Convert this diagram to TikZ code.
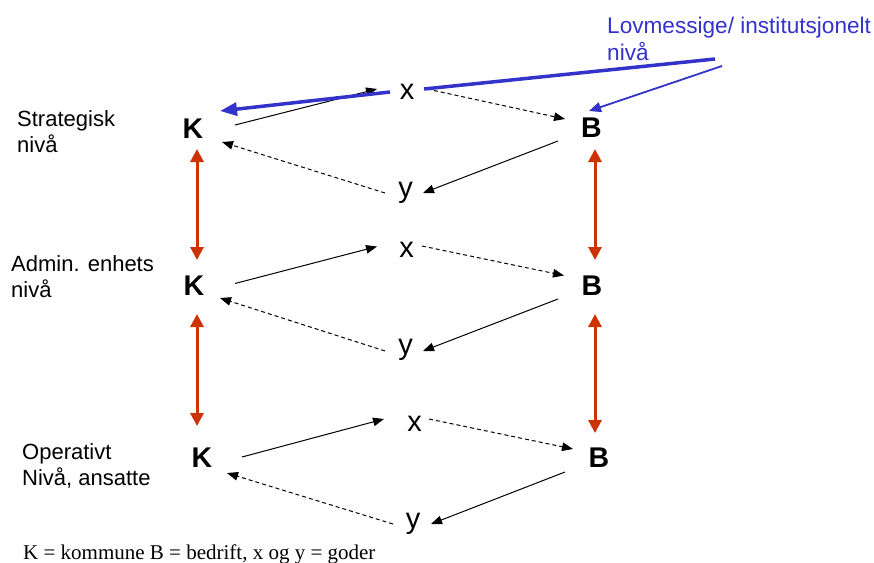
\documentclass[tikz,border=0pt]{standalone}
\usepackage{fontspec}
\setmainfont{Liberation Sans}
\newfontfamily\notefont{Liberation Serif}
\usetikzlibrary{arrows.meta,calc}
\definecolor{levelred}{RGB}{204,51,0}
\definecolor{lawblue}{RGB}{51,51,204}
\tikzset{
  actor/.style={inner sep=0pt, font=\fontsize{28.5}{31}\selectfont\bfseries},
  good/.style={inner sep=0pt, font=\fontsize{29}{31}\selectfont},
  levellabel/.style={inner sep=0pt, anchor=north west, align=left,
    font=\fontsize{22}{26.5}\selectfont},
  flow/.style={line width=1pt, black, -{Triangle[length=11pt,width=8.5pt]}},
  flowdash/.style={flow, dash pattern=on 4pt off 3pt},
  levelarrow/.style={line width=3pt, levelred,
    {Triangle[length=13pt,width=13pt]}-{Triangle[length=13pt,width=13pt]}},
  lawthick/.style={line width=3.5pt, lawblue},
  lawthin/.style={line width=1.8pt, lawblue, -{Triangle[length=12pt,width=10pt]}}
}
\begin{document}
\begin{tikzpicture}[x=1pt, y=-1pt]
\useasboundingbox[fill=white] (0,0) rectangle (874,562);

% level labels
\node[levellabel] (lstrat) at (17,110) {Strategisk\\nivå};
\node[levellabel] (ladmin) at (11,255) {Admin. enhets\\nivå};
\node[levellabel] (loper) at (22,443) {Operativt\\Nivå, ansatte};
\node[levellabel, text=lawblue, font=\fontsize{22.6}{27}\selectfont] (lov) at (607,17) {Lovmessige/ institutsjonelt\\nivå};

% actors and goods, three levels
\node[actor] (K1) at (193,128.5) {K};
\node[actor] (B1) at (591.5,127.5) {B};
\node[good] (x1) at (407,92) {x};
\node[good] (y1) at (405.5,192.5) {y};

\node[actor] (K2) at (194,285.5) {K};
\node[actor] (B2) at (592,285.5) {B};
\node[good] (x2) at (406.5,250) {x};
\node[good] (y2) at (405.5,350) {y};

\node[actor] (K3) at (202,458) {K};
\node[actor] (B3) at (599,458) {B};
\node[good] (x3) at (414.5,424) {x};
\node[good] (y3) at (413,523.5) {y};

% exchange cycles
\draw[flow] ($(K1)+(42,-3.5)$) -- ($(x1)+(-30,-3)$);
\draw[flowdash] ($(x1)+(20,-3)$) -- ($(B1)+(-26.5,-8.5)$);
\draw[flow] ($(B1)+(-33.5,13.5)$) -- ($(y1)+(17.5,0.5)$);
\draw[flowdash] ($(y1)+(-20.5,0.5)$) -- ($(K1)+(29,13.5)$);

\draw[flow] ($(K2)+(41,-2)$) -- ($(x2)+(-29.5,-3.5)$);
\draw[flowdash] ($(x2)+(15.5,-4)$) -- ($(B2)+(-28,-10)$);
\draw[flow] ($(B2)+(-34,13.5)$) -- ($(y2)+(17.5,1)$);
\draw[flowdash] ($(y2)+(-20.5,1)$) -- ($(K2)+(26,12.5)$);

\draw[flow] ($(K3)+(40,-1)$) -- ($(x3)+(-30.5,-5)$);
\draw[flowdash] ($(x3)+(14.5,-5)$) -- ($(B3)+(-26,-9)$);
\draw[flow] ($(B3)+(-34,14)$) -- ($(y3)+(18,0.5)$);
\draw[flowdash] ($(y3)+(-20,0.5)$) -- ($(K3)+(25,15)$);

% links between levels
\draw[levelarrow] ($(K1)+(4,20.5)$) -- ($(K2)+(3,-25.5)$);
\draw[levelarrow] ($(K2)+(3,28.5)$) -- ($(K3)+(-5,-32)$);
\draw[levelarrow] ($(B1)+(3.5,21.5)$) -- ($(B2)+(3,-25.5)$);
\draw[levelarrow] ($(B2)+(3,28.5)$) -- ($(B3)+(-4,-25)$);

% legal / institutional level
\coordinate (lawA) at ($(lov.north west)+(108,42)$);
\coordinate (lawB) at ($(lov.north west)+(115,49)$);
\draw[lawthick] (lawA) -- ($(x1)+(17,-3)$);
\draw[lawthick, -{Triangle[length=17pt,width=13pt]}] ($(x1)+(-17,0)$) -- ($(K1)+(27,-17.5)$);
\draw[lawthin] (lawB) -- ($(B1)+(-2.5,-16.5)$);

% legend
\node[inner sep=0pt, anchor=base west, font=\notefont\fontsize{21}{24}\selectfont] (legend) at (23,559)
  {K = kommune B = bedrift, x og y = goder};
\end{tikzpicture}
\end{document}
